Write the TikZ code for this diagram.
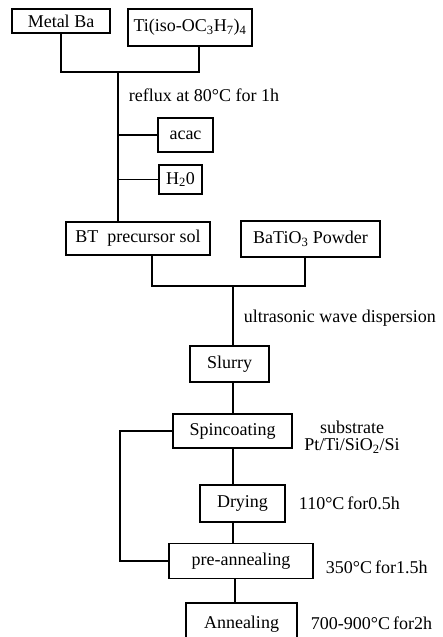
\documentclass[tikz,border=0pt]{standalone}
\usepackage{fontspec}
\setmainfont{Liberation Serif}
\begin{document}
\begin{tikzpicture}[x=1pt,y=-1pt,line width=1.9pt,
  font=\fontsize{18}{20}\selectfont,
  stepbox/.style={draw,inner sep=0pt,minimum width=#1},
  lbl/.style={anchor=west,inner sep=0pt}]
\useasboundingbox (0,0) rectangle (442,637);

% starting materials
\node[stepbox=98,minimum height=24] (metal) at (61,21) {Metal Ba};
\node[stepbox=124,minimum height=37] (ti) at (190,27.5) {Ti(iso-OC\textsubscript{3}H\textsubscript{7})\textsubscript{4}};
\node[stepbox=55,minimum height=34] (acac) at (185.5,135) {acac};
\node[stepbox=43,minimum height=29] (water) at (180.5,179.5) {H\textsubscript{2}0};
\node[stepbox=144,minimum height=33] (bt) at (138,238.5) {BT\ \ precursor sol};
\node[stepbox=139,minimum height=36] (powder) at (310.5,239) {BaTiO\textsubscript{3} Powder};

% film process
\node[stepbox=79,minimum height=36] (slurry) at (229.5,364) {Slurry};
\node[stepbox=119,minimum height=34] (spin) at (232.5,431) {Spincoating};
\node[stepbox=85,minimum height=37] (dry) at (242.5,503.5) {Drying};
\node[stepbox=144,minimum height=35] (pre) at (241,561) {pre-annealing};
\node[stepbox=111,minimum height=42] (anneal) at (241.5,624) {Annealing};

% conditions
\node[lbl] (reflux) at (128,95) {reflux at 80°C for 1h};
\node[lbl] (ultra) at (243,318) {ultrasonic wave dispersion};
\node (sub) at (352,427) {substrate};
\node (subst) at (352,446) {Pt/Ti/SiO\textsubscript{2}/Si};
\node[lbl] (drycond) at (298,503) {110°C\,for0.5h};
\node[lbl] (precond) at (325,567) {350°C\,for1.5h};
\node[lbl] (anncond) at (310,623) {700-900°C\,for2h};

% connectors
\coordinate (top) at (118,72);
\coordinate (mid) at (233,286);
\coordinate (loop) at (120,0);
\draw (metal.south) |- (top) -| ([xshift=9pt]ti.south);
\draw (top) -- (top |- bt.north);
\draw (top |- acac.west) -- (acac.west);
\draw (top |- water.west) -- (water.west);
\draw ([xshift=14pt]bt.south) |- (mid) -| ([xshift=-5.5pt]powder.south);
\draw (mid) -- (mid |- slurry.north);
\draw (slurry.south -| mid) -- (spin.north -| mid);
\draw (spin.south -| mid) -- (dry.north -| mid);
\draw (dry.south -| mid) -- (pre.north -| mid);
\draw ([xshift=2pt]pre.south -| mid) -- ([xshift=2pt]anneal.north -| mid);
\draw (spin.west) -| (loop |- pre.west) -- (pre.west);
\end{tikzpicture}
\end{document}
